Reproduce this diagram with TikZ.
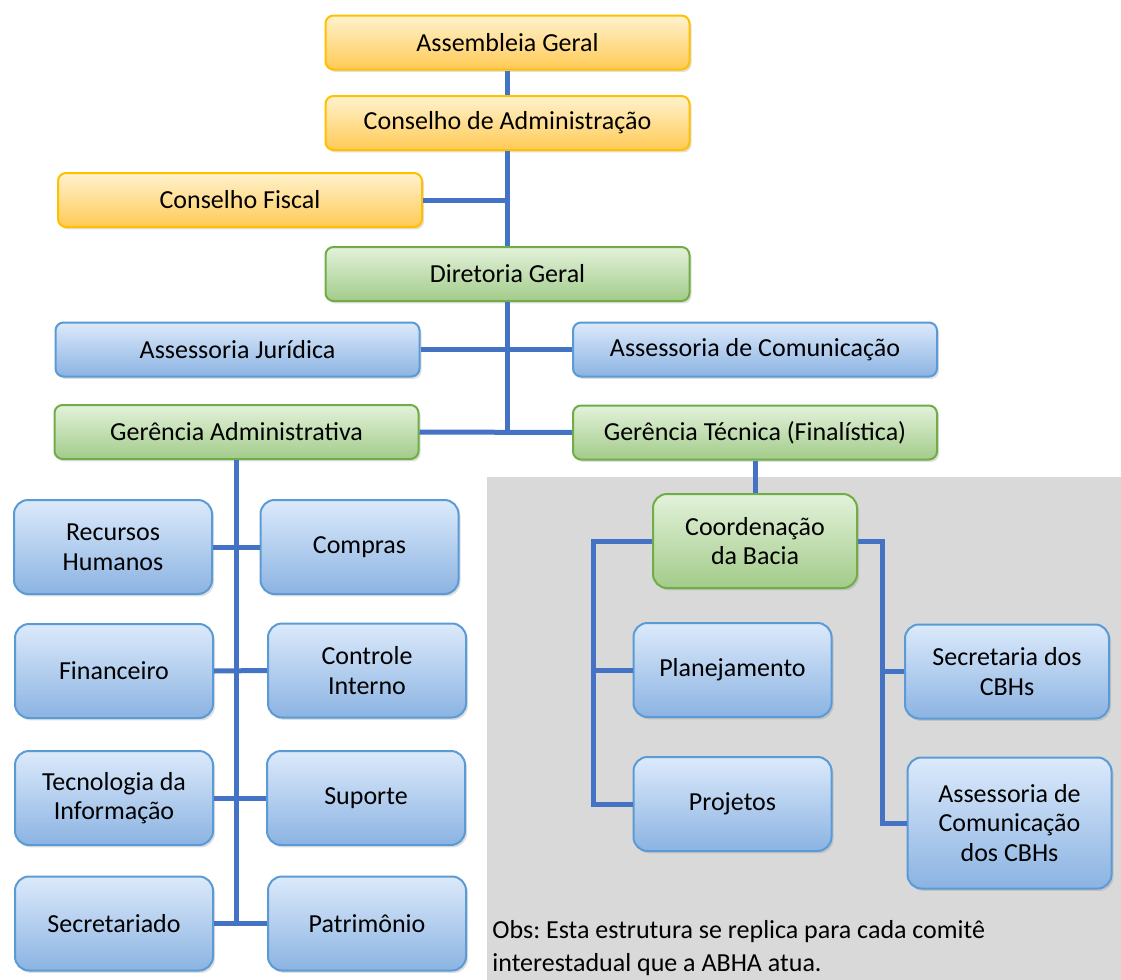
\documentclass[tikz,border=0pt]{standalone}
\usepackage{fontspec}
\setmainfont{Carlito}
\usetikzlibrary{shadows}
\definecolor{linkblue}{HTML}{4472C4}
\definecolor{goldline}{HTML}{FFC000}
\definecolor{goldtop}{HTML}{FFF2CE}
\definecolor{goldbot}{HTML}{FFCA55}
\definecolor{greenline}{HTML}{70AD47}
\definecolor{greentop}{HTML}{E3F2DB}
\definecolor{greenbot}{HTML}{A2CB89}
\definecolor{blueline}{HTML}{5B9BD5}
\definecolor{bluetop}{HTML}{DCEAFB}
\definecolor{bluebot}{HTML}{8BB3E2}
\definecolor{panelgray}{HTML}{D9D9D9}
\frenchspacing
\begin{document}
\begin{tikzpicture}[x=0.5pt, y=-0.5pt,
  box/.style={rounded corners=4pt, line width=1pt, align=center, inner sep=0pt,
    font=\fontsize{13}{14.8}\selectfont,
    drop shadow={opacity=0.25, shadow xshift=1pt, shadow yshift=-1.2pt}},
  gold/.style={box, draw=goldline, top color=goldtop, bottom color=goldbot},
  green/.style={box, draw=greenline, top color=greentop, bottom color=greenbot},
  blue/.style={box, draw=blueline, top color=bluetop, bottom color=bluebot},
  wide/.style={minimum width=182pt, minimum height=27pt},
  square/.style={minimum width=99pt, minimum height=47pt, rounded corners=7pt},
  link/.style={draw=linkblue, line width=2.5pt}]
\useasboundingbox (0,0) rectangle (1121,980);

\fill [panelgray] (487,477) rectangle (1121,980);

\node[gold, wide] (ag) at (507.5, 42.5) {Assembleia Geral};
\node[gold, wide] (ca) at (507.5, 123) {Conselho de Administração};
\node[gold, wide] (cf) at (240, 200) {Conselho Fiscal};
\node[green, wide] (dg) at (507.5, 274) {Diretoria Geral};
\node[blue, wide] (aj) at (237.5, 349.5) {Assessoria Jurídica};
\node[blue, wide] (ac) at (755, 349.5) {Assessoria de Comunicação};
\node[green, wide] (ga) at (236.5, 432) {Gerência Administrativa};
\node[green, wide] (gt) at (755, 432.5) {Gerência Técnica (Finalística)};

\node[blue, square] (rh) at (113, 547) {Recursos\\Humanos};
\node[blue, square] (co) at (359.5, 547) {Compras};
\node[blue, square] (fi) at (114, 671) {Financeiro};
\node[blue, square] (ci) at (367, 670.5) {Controle\\Interno};
\node[blue, square] (ti) at (114, 798) {Tecnologia da\\Informação};
\node[blue, square] (su) at (366, 798) {Suporte};
\node[blue, square] (se) at (114, 923.5) {Secretariado};
\node[blue, square] (pa) at (367, 923.5) {Patrimônio};

\node[green, square, minimum width=102pt] (cb) at (755, 541) {Coordenação\\da Bacia};
\node[blue, square] (pl) at (732.5, 670) {Planejamento};
\node[blue, square] (pj) at (732.5, 804) {Projetos};
\node[blue, square, minimum width=102pt] (sc) at (1007, 671.5) {Secretaria dos\\CBHs};
\node[blue, square, minimum width=102pt, minimum height=65.5pt] (acb) at (1009.5, 823)
  {Assessoria de\\Comunicação\\dos CBHs};

\node[anchor=north west, align=left, inner sep=0pt, font=\fontsize{13}{16.5}\selectfont] (obs)
  at (492, 920) {Obs: Esta estrutura se replica para cada comitê\\interestadual que a ABHA atua.};

\coordinate (lb) at (593, 541);
\coordinate (rb) at (882, 541);

\draw [link] (ag) -- (ca);
\draw [link] (ca) -- (dg);
\draw [link] (dg.south) -- (dg.south |- gt.west);
\draw [link] (cf.east) -- (cf.east -| ca.south);
\draw [link] (aj.east) -- (ac.west);
\draw [link] (ga.east) -- (gt.west);
\draw [link] (gt) -- (cb);

\draw [link] (ga.south) -- (ga.south |- pa.west);
\draw [link] (rh.east) -- (co.west);
\draw [link] (fi.east) -- (ci.west);
\draw [link] (ti.east) -- (su.west);
\draw [link] (se.east) -- (pa.west);

\draw [link] (cb.west) -- (lb) |- (pj.west);
\draw [link] (lb |- pl.west) -- (pl.west);
\draw [link] (cb.east) -- (rb) |- (acb.west);
\draw [link] (rb |- sc.west) -- (sc.west);

\end{tikzpicture}
\end{document}
